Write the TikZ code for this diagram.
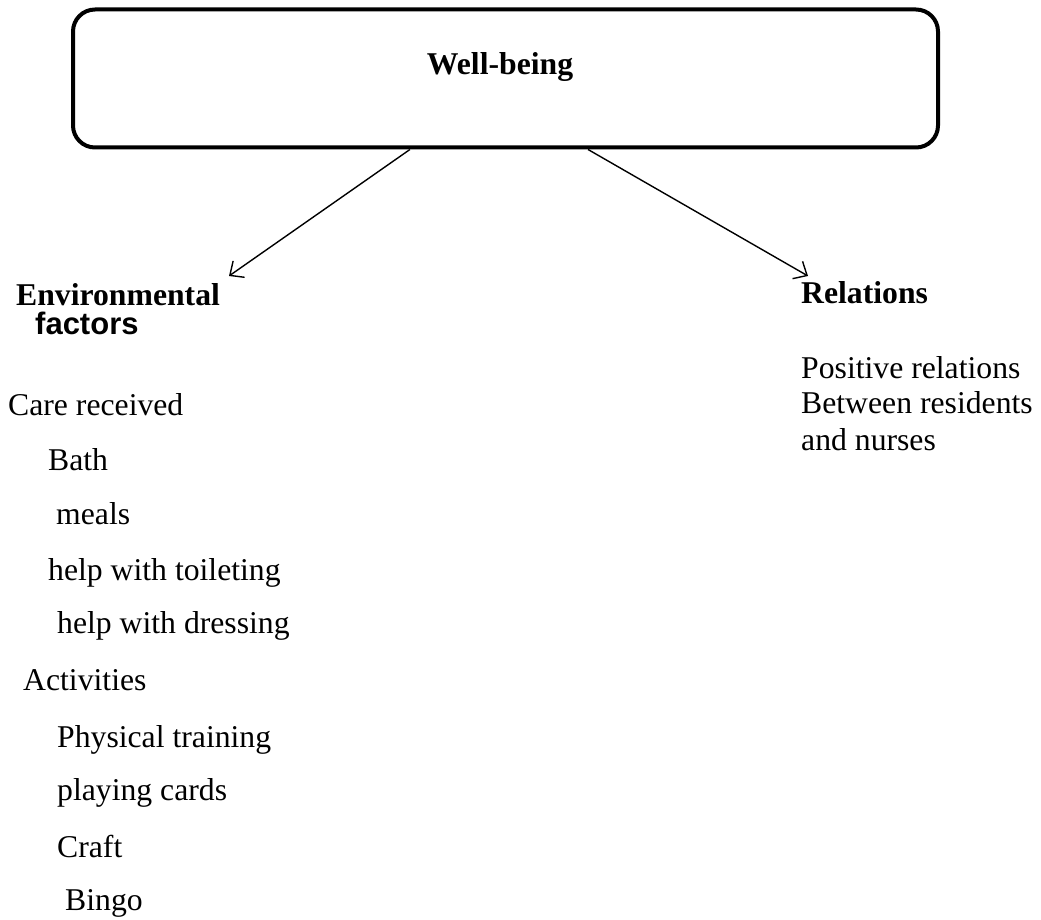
\documentclass[tikz,border=0pt]{standalone}
\usepackage{fontspec}
\setmainfont{Liberation Serif}[BoldFont={Liberation Serif Bold}]
\newfontfamily\arialfont{Liberation Sans}[BoldFont={Liberation Sans Bold}]
\usetikzlibrary{arrows.meta,calc}
\begin{document}
\begin{tikzpicture}[x=1pt,y=-1pt,
  txt/.style={anchor=base west,inner sep=0pt,font=\fontsize{31.7}{36.5}\selectfont},
  head/.style={txt,font=\fontsize{31.7}{36.5}\selectfont\bfseries},
  wbox/.style={draw,line width=4pt,rounded corners=22pt,minimum width=865pt,minimum height=138pt,inner sep=0pt},
  conn/.style={line width=1.4pt,-{Straight Barb[length=11pt,width=20pt,line width=1.4pt]}}]
\useasboundingbox (0,0) rectangle (1041,920);
\node[wbox] (wb) at (505.5,78.5) {};
\node[head,anchor=base] (title) at (500,75) {Well-being};
\coordinate (ls) at ($(wb.south west)!0.39!(wb.south east)$);
\coordinate (rs) at ($(wb.south west)!0.595!(wb.south east)$);
\coordinate (lt) at (229,276);
\coordinate (rt) at (808,276);
\draw[conn] (ls) -- (lt);
\draw[conn] (rs) -- (rt);
\node[head] (env) at (16,305) {Environmental};
\node[txt,font=\fontsize{31}{35}\selectfont\arialfont\bfseries] (fac) at (35,334) {factors};
\node[head] (rel) at (801,303) {Relations};
\node[txt] (r1) at (801,378) {Positive relations};
\node[txt] (r2) at (801,413) {Between residents};
\node[txt] (r3) at (801,450) {and nurses};
\node[txt] (c0) at (8,415) {Care received};
\node[txt] (c1) at (48,470) {Bath};
\node[txt] (c2) at (56,524) {meals};
\node[txt] (c3) at (48,580) {help with toileting};
\node[txt] (c4) at (57,633) {help with dressing};
\node[txt] (a0) at (23,690) {Activities};
\node[txt] (a1) at (57,747) {Physical training};
\node[txt] (a2) at (57,800) {playing cards};
\node[txt] (a3) at (57,857) {Craft};
\node[txt] (a4) at (65,910) {Bingo};
\end{tikzpicture}
\end{document}
